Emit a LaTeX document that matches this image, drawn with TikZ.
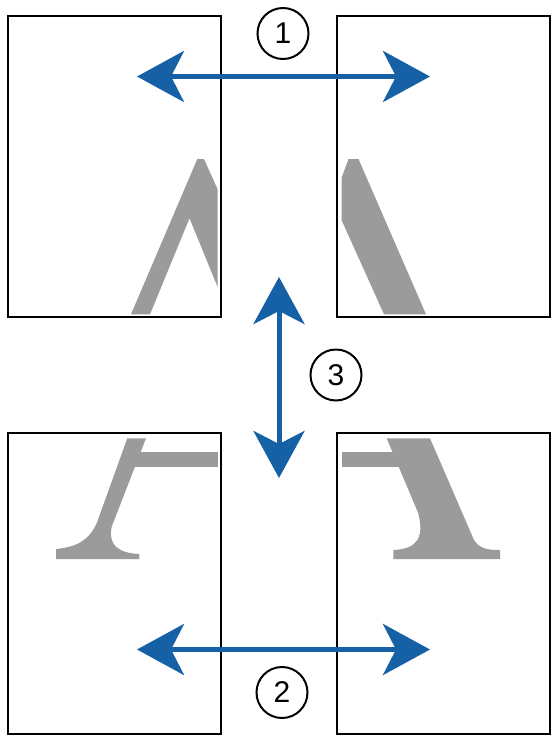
\documentclass[tikz,border=0pt]{standalone}
\usepackage{fontspec}
\setmainfont{Liberation Sans}
\usetikzlibrary{arrows.meta}
\definecolor{arrowblue}{RGB}{22,96,166}
\definecolor{lettergrey}{RGB}{155,155,155}
\begin{document}
\begin{tikzpicture}[x=1pt,y=-1pt,
    sheet/.style={shape = rectangle, draw, line width=2.7pt, minimum width=213pt, minimum height=301pt, inner sep=0pt, outer sep=0pt},
    move/.style={draw=arrowblue, line width=5pt, >={Stealth[length=47pt, width=51pt, inset=13pt]}, <->},
    step number/.style={shape = circle, draw, line width=2pt, minimum size=51pt, inner sep=0pt, font=\fontsize{30}{30}\selectfont}]
    \useasboundingbox (0, 0) rectangle (556, 740);
    % letter pieces
    \fill [lettergrey] (131, 314.3) -- (197.3, 159) -- (204, 159) -- (217.5, 189) -- (217.5, 286.7) -- (189.5, 218.3) -- (150, 314.3) -- cycle;
    \fill [lettergrey] (341.5, 178) -- (348.5, 159) -- (358.5, 159) -- (426, 314.3) -- (384, 314.3) -- (341.5, 220) -- cycle;
    \fill [lettergrey] (132, 451.7) rectangle (217.5, 467.3);
    \fill [lettergrey] (127.3, 438.3) -- (146, 438.3) -- (111.7, 526.7) .. controls (108, 545) and (118, 553) .. (139.3, 554) -- (139.3, 559) -- (56, 559) -- (56, 549) .. controls (75, 547) and (88, 542) .. (96.7, 523.3) -- cycle;
    \fill [lettergrey] (341.5, 451.7) rectangle (400, 466.7);
    \fill [lettergrey] (386.7, 438.3) -- (430, 438.3) -- (474, 540) .. controls (480, 549) and (488, 550) .. (500, 550) -- (500, 559) -- (393.3, 559) -- (393.3, 550) .. controls (415, 549) and (425, 540) .. (418.3, 513.3) -- cycle;
    % sheets
    \node (TopLeftSheet) [sheet] at (114.5, 166.5) {};
    \node (TopRightSheet) [sheet] at (443.5, 166.5) {};
    \node (BottomLeftSheet) [sheet] at (114.5, 583.5) {};
    \node (BottomRightSheet) [sheet] at (443.5, 583.5) {};
    % arrows
    \coordinate (TopLeftEnd) at (137, 76.5);
    \coordinate (TopRightEnd) at (430, 76.5);
    \coordinate (MiddleTopEnd) at (279, 277);
    \coordinate (MiddleBottomEnd) at (279, 478);
    \coordinate (BottomLeftEnd) at (137, 649.5);
    \coordinate (BottomRightEnd) at (430, 649.5);
    \draw [move] (TopLeftEnd) -- (TopRightEnd);
    \draw [move] (MiddleTopEnd) -- (MiddleBottomEnd);
    \draw [move] (BottomLeftEnd) -- (BottomRightEnd);
    % numbers
    \node (FirstStep) [step number] at (283, 33.5) {1};
    \node (SecondStep) [step number] at (282, 692.5) {2};
    \node (ThirdStep) [step number] at (336, 375) {3};
\end{tikzpicture}
\end{document}
